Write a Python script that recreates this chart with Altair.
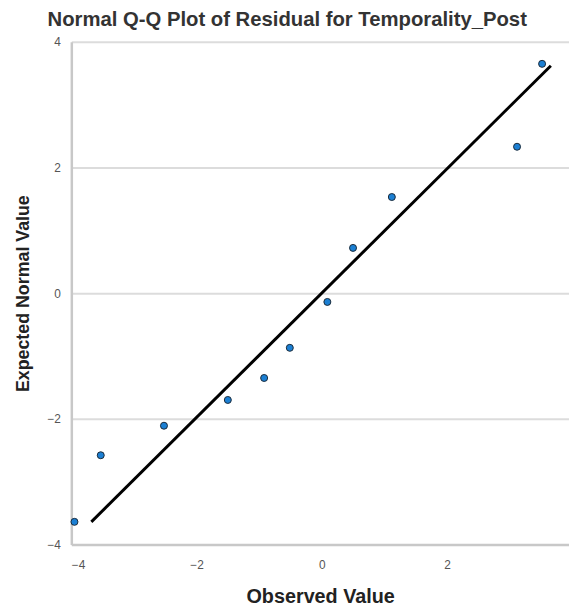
import altair as alt
import pandas as pd

observed = [-3.95, -3.53, -2.52, -1.50, -0.92, -0.51, 0.09, 0.50, 1.12, 3.12, 3.52]
expected = [-3.64, -2.58, -2.11, -1.70, -1.35, -0.87, -0.14, 0.72, 1.53, 2.33, 3.65]
line_x = [-3.68, 3.66]
line_y = [-3.64, 3.62]

pts = pd.DataFrame({"obs": observed, "exp": expected})
ln = pd.DataFrame({"obs": line_x, "exp": line_y})

xscale = alt.Scale(domain=[-4, 3.95], nice=False, zero=False)
yscale = alt.Scale(domain=[-4, 4], nice=False, zero=False)

xaxis = alt.Axis(title="Observed Value", values=[-4, -2, 0, 2], grid=False,
                 ticks=False, labelFontSize=12, labelColor="#555", labelPadding=15,
                 domainColor="#c8c8c8", domainWidth=2.5, titleFontSize=20,
                 titleFontWeight="bold", titleColor="#222", titlePadding=17,
                 labelFont="Liberation Sans", titleFont="Liberation Sans")
yaxis = alt.Axis(title="Expected Normal Value", values=[-4, -2, 0, 2, 4], grid=True,
                 gridColor="#dcdcdc", gridWidth=2, ticks=False, labelFontSize=12,
                 labelColor="#555", labelPadding=11, domainColor="#c8c8c8",
                 domainWidth=2.5, titleFontSize=18, titleFontWeight="bold",
                 titleColor="#222", titlePadding=15,
                 labelFont="Liberation Sans", titleFont="Liberation Sans")

line = alt.Chart(ln).mark_line(color="black", strokeWidth=3).encode(
    x=alt.X("obs:Q", scale=xscale, axis=xaxis),
    y=alt.Y("exp:Q", scale=yscale, axis=yaxis),
)
points = alt.Chart(pts).mark_point(filled=True, size=50, fill="#1b7fd3",
                                   stroke="#1a2a3a", strokeWidth=1, opacity=1).encode(
    x=alt.X("obs:Q", scale=xscale, axis=xaxis),
    y=alt.Y("exp:Q", scale=yscale, axis=yaxis),
)

chart = (line + points).properties(
    width=503, height=508,
    title=alt.TitleParams("Normal Q-Q Plot of Residual for Temporality_Post",
                          anchor="start", frame="group", fontSize=20.5, fontWeight="bold",
                          color="#333", font="Liberation Sans", dx=-24, offset=6),
    autosize=alt.AutoSizeParams(type="none"),
    padding={"left": 64, "top": 31, "right": 0, "bottom": 60},
).configure_view(stroke=None)

chart.save("out.html", embed_options={"renderer": "svg", "actions": False})
